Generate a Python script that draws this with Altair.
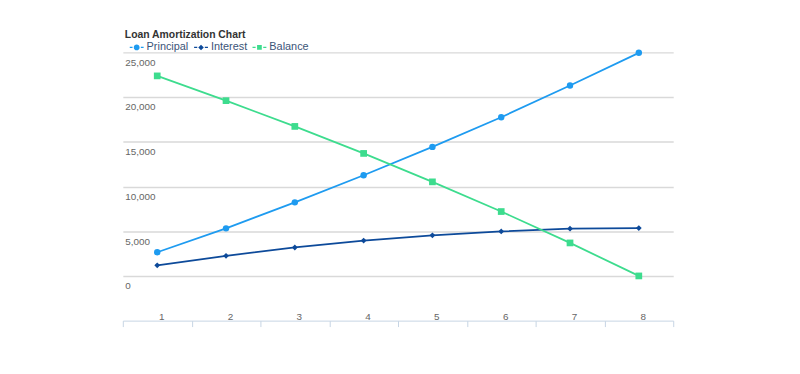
import altair as alt
import pandas as pd

# ---- data ----
periods = [1, 2, 3, 4, 5, 6, 7, 8]
principal = [2650, 5320, 8230, 11260, 14430, 17750, 21300, 24950]
interest = [1180, 2250, 3180, 3950, 4540, 4980, 5280, 5350]
balance = [22370, 19600, 16720, 13700, 10520, 7200, 3690, 0]
series_names = ["Principal", "Interest", "Balance"]
series_colors = ["#1e9bf0", "#0d4a9a", "#3ddc8e"]
marker_shapes = ["circle", "diamond", "square"]
marker_sizes = [42, 34, 46]
y_tick_values = [0, 5000, 10000, 15000, 20000, 25000]
chart_title = "Loan Amortization Chart"

# legend glyphs (all filled): short bar, marker, short bar
legend_shapes = [
    "M-1,-0.1H-0.6V0.1H-1ZM0.6,-0.1H1V0.1H0.6ZM-0.42,0A0.42,0.42,0,1,0,0.42,0A0.42,0.42,0,1,0,-0.42,0Z",
    "M-1,-0.1H-0.55V0.1H-1ZM0.55,-0.1H1V0.1H0.55ZM-0.4,0L0,-0.4L0.4,0L0,0.4Z",
    "M-1,-0.1H-0.55V0.1H-1ZM0.55,-0.1H1V0.1H0.55ZM-0.34,-0.34H0.34V0.34H-0.34Z",
]

df = pd.DataFrame({
    "Period": periods * 3,
    "Series": [series_names[0]] * 8 + [series_names[1]] * 8 + [series_names[2]] * 8,
    "Amount": principal + interest + balance,
})

FONT = "Liberation Sans"

x_enc = alt.X(
    "Period:O",
    scale=alt.Scale(type="band", paddingInner=0, paddingOuter=0),
    axis=alt.Axis(
        title=None, labelAngle=0, tickBand="extent", grid=False,
        domainColor="#c6d5e4", tickColor="#c6d5e4", domainWidth=1, tickWidth=1,
        tickSize=6, labelPadding=-5, labelBaseline="bottom", labelOffset=4,
        labelColor="#666666", labelFont=FONT, labelFontSize=10,
    ),
)
y_enc = alt.Y(
    "Amount:Q",
    scale=alt.Scale(domain=[-5000, 25000], nice=False, zero=False),
    axis=alt.Axis(
        title=None, values=y_tick_values, format=",.0f", domain=False,
        ticks=False, tickSize=0, labelAlign="left", labelBaseline="top",
        labelPadding=-2, labelOffset=5, labelColor="#666666",
        labelFont=FONT, labelFontSize=10,
        gridColor="#d9d9d9", gridWidth=1.5,
    ),
)


def make_legend():
    return alt.Legend(
        title=None, orient="none", legendX=7, legendY=-12, direction="horizontal",
        symbolSize=196, symbolStrokeWidth=0, labelFont=FONT, labelFontSize=11,
        labelColor="#3b5478", labelOffset=3, columnPadding=5, padding=0,
        symbolOpacity=1, symbolFillColor=series_colors[0],
    )


def series_scale(rng):
    return alt.Scale(domain=series_names, range=rng)


base = alt.Chart(df)

lines = base.mark_line(strokeWidth=1.8).encode(
    x=x_enc, y=y_enc,
    stroke=alt.Stroke("Series:N", scale=series_scale(series_colors), legend=None),
    order="Period:O",
)

marker_layers = []
for name, shp, sz in zip(series_names, marker_shapes, marker_sizes):
    marker_layers.append(
        base.transform_filter(alt.datum.Series == name)
        .mark_point(filled=True, opacity=1, shape=shp, size=sz)
        .encode(
            x=x_enc, y=y_enc,
            fill=alt.Fill("Series:N", scale=series_scale(series_colors), legend=None),
        )
    )

# invisible layer that only feeds the legend (line + marker glyphs)
legend_layer = base.mark_point(filled=True, opacity=0).encode(
    x=x_enc, y=y_enc,
    color=alt.Color("Series:N", scale=series_scale(series_colors), legend=make_legend()),
    shape=alt.Shape("Series:N", scale=series_scale(legend_shapes), legend=make_legend()),
)

chart = (
    alt.layer(lines, *marker_layers, legend_layer)
    .resolve_scale(color="independent", shape="independent")
    .properties(
        width=556,
        height=271,
        padding={"left": 116, "top": 43, "right": 120, "bottom": 44},
        autosize=alt.AutoSizeParams(type="none"),
        title=alt.TitleParams(
            chart_title, anchor="start", frame="group", font=FONT, fontSize=10.5,
            fontWeight="bold", color="#333333", offset=0, dx=2,
        ),
        background="white",
    )
    .configure_view(stroke=None)
)

chart.save("out.html", embed_options={"renderer": "svg", "actions": False})
